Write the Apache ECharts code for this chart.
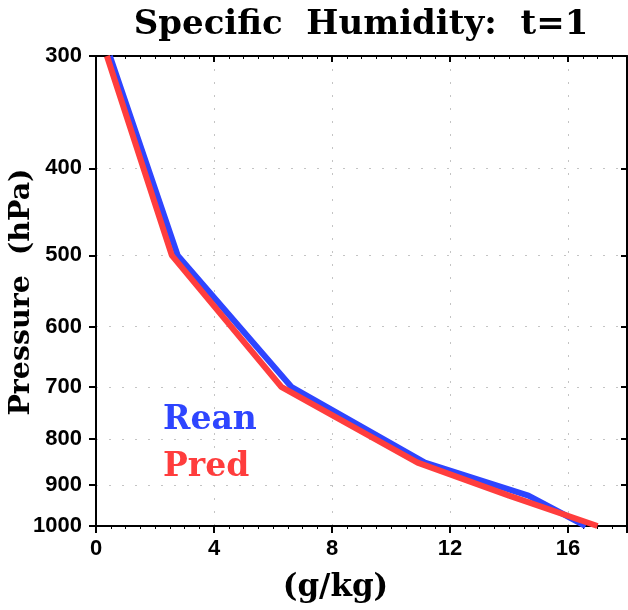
<!DOCTYPE html>
<html>
<head>
<meta charset="utf-8">
<script src="https://cdn.jsdelivr.net/npm/echarts@6/dist/echarts.min.js"></script>
<style>html,body{margin:0;padding:0;background:#fff}#c{width:628px;height:610px}</style>
</head>
<body>
<div id="c"></div>
<script>
var pressureLevels = [300, 500, 700, 850, 925, 1000];
var reanValues = [0.47, 2.77, 6.62, 11.15, 14.66, 16.6];
var predValues = [0.37, 2.57, 6.28, 10.9, 14.0, 17.0];
var yTickLabels = [300, 400, 500, 600, 700, 800, 900, 1000];
var xTickLabels = [0, 4, 8, 12, 16];
var yAxisTitle = 'Pressure  (hPa)';
var xAxisTitle = '(g/kg)';

function pairs(vals) {
  return vals.map(function (v, i) { return [v, pressureLevels[i]]; });
}

var BLUE = '#2e45ff';
var RED = '#ff3d3d';
var SERIF = '"DejaVu Serif", "Liberation Serif", serif';
var SANS = '"Liberation Sans", Arial, sans-serif';

var chart = echarts.init(document.getElementById('c'), null, {renderer: 'canvas'});
var dotted = {color: '#c4c4c4', width: 1, type: [2, 11]};

chart.setOption({
  animation: false,
  backgroundColor: '#fff',
  title: {
    text: 'Specific  Humidity:  t=1',
    left: 356, top: 3, textAlign: 'center',
    textStyle: {fontFamily: SERIF, fontWeight: 'bold', fontSize: 34, color: '#000'}
  },
  legend: {
    orient: 'vertical', left: 153, top: 399, itemGap: 14,
    itemWidth: 0, itemHeight: 0,
    data: [
      {name: 'Rean', icon: 'none', textStyle: {color: BLUE}},
      {name: 'Pred', icon: 'none', textStyle: {color: RED}}
    ],
    textStyle: {fontFamily: SERIF, fontWeight: 'bold', fontSize: 33, padding: 0}
  },
  graphic: [{
    type: 'text', x: 22, y: 292, rotation: Math.PI / 2,
    style: {text: yAxisTitle, fontFamily: SERIF, fontWeight: 'bold', fontSize: 28.5, fill: '#000',
      align: 'center', verticalAlign: 'middle'}
  }],
  grid: {left: 96, right: 1, top: 56, bottom: 84, containLabel: false, outerBoundsMode: 'none'},
  xAxis: [{
    type: 'value', min: 0, max: 18, interval: 4,
    name: xAxisTitle, nameLocation: 'middle', nameGap: 46, nameMoveOverlap: false,
    nameTextStyle: {fontFamily: SERIF, fontWeight: 'bold', fontSize: 31, color: '#000', padding: [0, 52, 0, 0]},
    axisLine: {show: true, onZero: false, lineStyle: {color: '#000', width: 2}},
    axisTick: {show: true, length: 7, lineStyle: {color: '#000', width: 2}},
    minorTick: {show: true, splitNumber: 8, length: 3, lineStyle: {color: '#000', width: 1}},
    axisLabel: {fontFamily: SANS, fontWeight: 'bold', fontSize: 22, color: '#000', margin: 12,
      customValues: xTickLabels},
    splitLine: {show: true, lineStyle: dotted}
  }, {
    type: 'value', min: 0, max: 18, interval: 4, position: 'top',
    axisLine: {show: true, onZero: false, lineStyle: {color: '#000', width: 2}},
    axisTick: {show: true, inside: true, length: 6, lineStyle: {color: '#000', width: 2}},
    minorTick: {show: true, splitNumber: 8, length: 3, lineStyle: {color: '#000', width: 1}},
    axisLabel: {show: false},
    splitLine: {show: false}
  }],
  yAxis: [{
    type: 'log', logBase: 10, min: 300, max: 1000, inverse: true,
    axisLine: {show: true, onZero: false, lineStyle: {color: '#000', width: 2}},
    axisTick: {show: true, length: 7, lineStyle: {color: '#000', width: 2}, customValues: yTickLabels},
    axisLabel: {fontFamily: SANS, fontWeight: 'bold', fontSize: 22, color: '#000', margin: 14,
      customValues: yTickLabels, formatter: function (v) { return String(Math.round(v)); }},
    splitLine: {show: true, lineStyle: dotted}
  }, {
    type: 'log', logBase: 10, min: 300, max: 1000, inverse: true, position: 'right',
    axisLine: {show: true, onZero: false, lineStyle: {color: '#000', width: 2}},
    axisTick: {show: true, inside: true, length: 6, lineStyle: {color: '#000', width: 2}, customValues: yTickLabels},
    axisLabel: {show: false},
    splitLine: {show: false}
  }],
  series: [{
    name: 'Rean', type: 'line', data: pairs(reanValues), showSymbol: false, symbol: 'none',
    lineStyle: {color: BLUE, width: 6}, itemStyle: {color: BLUE}, z: 2
  }, {
    name: 'Pred', type: 'line', data: pairs(predValues), showSymbol: false, symbol: 'none',
    lineStyle: {color: RED, width: 6}, itemStyle: {color: RED}, z: 3
  }]
});
</script>
</body>
</html>
